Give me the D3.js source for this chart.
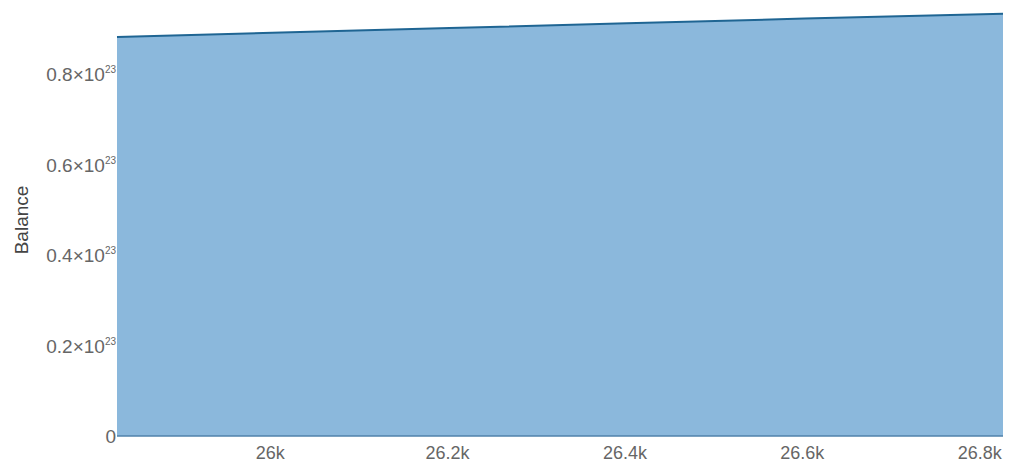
<!DOCTYPE html>
<meta charset="utf-8">
<style>
body { margin: 0; background: #fff; }
svg { font-family: "Liberation Sans", Arial, sans-serif; }
</style>
<svg width="1010" height="462"></svg>
<script src="https://d3js.org/d3.v7.min.js"></script>
<script>
// block number vs balance
var blocks = [25825, 26000, 26200, 26400, 26600, 26824];
var balance = [0.882e23, 0.891e23, 0.9015e23, 0.912e23, 0.9225e23, 0.933e23];
var xTicks = [26000, 26200, 26400, 26600, 26800];
var xTickLabels = ["26k", "26.2k", "26.4k", "26.6k", "26.8k"];
var yTicks = [0, 0.2e23, 0.4e23, 0.6e23, 0.8e23];
var yTickLabels = ["0", "0.2", "0.4", "0.6", "0.8"];

var svg = d3.select("svg");
var left = 117, right = 1003, bottom = 436;

var data = blocks.map(function(b, i) { return {x: b, y: balance[i]}; });

var x = d3.scaleLinear().domain([blocks[0], blocks[blocks.length - 1]]).range([left, right]);
// 1e23 spans about 452px
var y = d3.scaleLinear().domain([0, 1e23]).range([bottom, bottom - 452.5]);

var area = d3.area()
    .x(function(d) { return x(d.x); })
    .y0(bottom)
    .y1(function(d) { return y(d.y); });

var line = d3.line()
    .x(function(d) { return x(d.x); })
    .y(function(d) { return y(d.y); });

svg.append("path")
    .datum(data)
    .attr("d", area)
    .attr("fill", "#8bb8dc");

svg.append("line")
    .attr("x1", left).attr("x2", right)
    .attr("y1", bottom).attr("y2", bottom)
    .attr("stroke", "#4f82ab")
    .attr("stroke-width", 1.5);

svg.append("path")
    .datum(data)
    .attr("d", line)
    .attr("fill", "none")
    .attr("stroke", "#1f6593")
    .attr("stroke-width", 2);

// x axis labels
svg.selectAll("text.xt")
    .data(xTicks)
  .enter().append("text")
    .attr("class", "xt")
    .attr("x", function(d) { return x(d) - 2; })
    .attr("y", 459)
    .attr("text-anchor", "middle")
    .attr("font-size", 18)
    .attr("fill", "#666")
    .text(function(d, i) { return xTickLabels[i]; });

// y axis labels with superscript exponent
var yt = svg.selectAll("text.yt")
    .data(yTicks)
  .enter().append("text")
    .attr("class", "yt")
    .attr("x", 116)
    .attr("y", function(d) { return y(d) + 7; })
    .attr("text-anchor", "end")
    .attr("font-size", 19)
    .attr("fill", "#666");

yt.each(function(d, i) {
  var t = d3.select(this);
  if (d === 0) { t.text("0"); return; }
  t.append("tspan").text(yTickLabels[i] + "×10");
  t.append("tspan").attr("font-size", 10).attr("dy", -8).text("23");
});

svg.append("text")
    .attr("transform", "translate(28,220) rotate(-90)")
    .attr("text-anchor", "middle")
    .attr("font-size", 19)
    .attr("fill", "#444")
    .text("Balance");
</script>
